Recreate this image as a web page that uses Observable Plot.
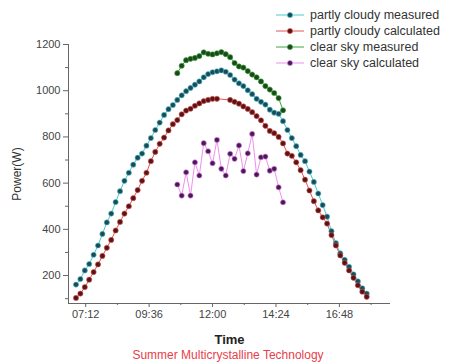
<!DOCTYPE html>
<html><head><meta charset="utf-8">
<script src="https://cdn.jsdelivr.net/npm/d3@7"></script>
<script src="https://cdn.jsdelivr.net/npm/@observablehq/plot@0.6"></script>
<style>
body{margin:0;background:#fff;font-family:"Liberation Sans",Arial,sans-serif;}
#wrap{position:relative;width:456px;height:363px;overflow:hidden;background:#fff;}
#wrap svg.plot{position:absolute;left:0;top:0;}
g[aria-label="x-axis label"] text{font-weight:bold;font-size:13px;fill:#222;}
g[aria-label="y-axis label"] text{font-size:12px;fill:#333;}
#legend{position:absolute;left:276px;top:7px;font-size:12.5px;color:#333;}
.row{height:16px;display:flex;align-items:center;white-space:nowrap;}
.row svg{margin-right:6px;}
#caption{position:absolute;left:0;width:456px;top:348px;text-align:center;font-size:12px;line-height:14px;color:#e8404a;}
</style></head><body><div id="wrap"></div>
<script>
const pcTimes = ["06:50","07:00","07:10","07:20","07:30","07:40","07:50","08:00","08:10","08:20","08:30","08:40","08:50","09:00","09:10","09:20","09:30","09:40","09:50","10:00","10:10","10:20","10:30","10:40","10:50","11:00","11:10","11:20","11:30","11:40","11:50","12:00","12:10","12:20","12:30","12:40","12:50","13:00","13:10","13:20","13:30","13:40","13:50","14:00","14:10","14:20","14:30","14:40","14:50","15:00","15:10","15:20","15:30","15:40","15:50","16:00","16:10","16:20","16:30","16:40","16:50","17:00","17:10","17:20","17:30","17:40","17:50"];
const pcMeasured = [161,185,222,250,290,330,380,430,468,518,565,610,645,680,710,728,762,795,830,862,895,920,938,960,980,998,1012,1026,1040,1058,1072,1080,1084,1088,1082,1068,1048,1032,1020,1002,985,965,952,940,918,905,900,868,830,795,760,722,695,650,605,555,505,455,392,340,296,268,238,205,175,145,122];
const pcCalculated = [103,122,150,182,215,248,285,320,354,395,432,468,500,535,570,610,645,695,735,770,797,828,855,873,898,914,922,935,945,955,960,965,965,null,null,960,952,944,932,921,907,890,872,848,826,816,800,772,728,718,690,656,615,568,522,482,452,425,375,330,287,255,222,190,158,130,108];
const csTimes = ["10:40","10:50","11:00","11:10","11:20","11:30","11:40","11:50","12:00","12:10","12:20","12:30","12:40","12:50","13:00","13:10","13:20","13:30","13:40","13:50","14:00","14:10","14:20","14:30","14:40"];
const csMeasured = [1076,1108,1132,1138,1142,1150,1166,1160,1157,1162,1167,1158,1145,1120,1105,1100,1085,1070,1058,1040,1020,1005,990,968,915];
const csCalculated = [594,546,647,546,690,633,773,738,686,787,662,633,727,705,763,652,729,813,637,712,715,654,662,582,517];
const seriesNames = ["partly cloudy measured","partly cloudy calculated","clear sky measured","clear sky calculated"];
const lineColors = ["#4cc8cc","#e05555","#3aa63a","#ee90ee"];
const dotColors = ["#1d4a5a","#5a1414","#1a4a1a","#4a1a58"];
const xTickLabels = ["07:12","09:36","12:00","14:24","16:48"];
const xMinorLabels = ["08:24","10:48","13:12","15:36","18:00"];
const xRange = ["06:33","18:44"];
const yTicks = [200,400,600,800,1000,1200];
const yMinor = [100,300,500,700,900,1100];
const yRange = [79,1200];

const toDate = s => new Date(Date.UTC(2000,0,1,+s.slice(0,2),+s.slice(3,5)));
const mk = (times, vals) => times.map((t,i)=>({t:toDate(t), v:vals[i]})).filter(d=>d.v!=null);
const series = [mk(pcTimes,pcMeasured), mk(pcTimes,pcCalculated), mk(csTimes,csMeasured), mk(csTimes,csCalculated)];
const xDomain = xRange.map(toDate);

const marks = [
  Plot.ruleX([xDomain[0]], {y1:yRange[0], y2:yRange[1], stroke:"#666"}),
  Plot.ruleY([yRange[0]], {stroke:"#666"}),
  Plot.axisX({ticks:xTickLabels.map(toDate), tickFormat:d3.utcFormat("%H:%M"), tickSize:4, tickPadding:3, stroke:"#666", fill:"#444", fontSize:11, label:"Time", labelAnchor:"center", labelOffset:40, labelArrow:"none"}),
  Plot.axisX({ticks:xMinorLabels.map(toDate), tickFormat:()=>"", tickSize:2, stroke:"#666", label:null}),
  Plot.axisY({ticks:yTicks, tickFormat:d=>String(d), tickSize:5, tickPadding:3, stroke:"#666", fill:"#444", fontSize:11, label:"Power(W)", labelAnchor:"center", labelOffset:56, labelArrow:"none"}),
  Plot.axisY({ticks:yMinor, tickFormat:()=>"", tickSize:3, stroke:"#666", label:null})
];
series.forEach((d,i)=>{
  marks.push(Plot.line(d,{x:"t",y:"v",stroke:lineColors[i],strokeWidth:1}));
});
series.forEach((d,i)=>{
  marks.push(Plot.dot(d,{x:"t",y:"v",r:2.6,fill:dotColors[i],stroke:lineColors[i],strokeWidth:0.6}));
});

const chart = Plot.plot({
  width:456, height:363,
  marginLeft:68, marginRight:66, marginTop:44, marginBottom:60,
  style:{fontFamily:"Liberation Sans, Arial, sans-serif", fontSize:"11px", background:"transparent", overflow:"visible"},
  x:{type:"utc", domain:xDomain},
  y:{domain:yRange},
  marks
});
const wrap = document.getElementById("wrap");
wrap.appendChild(chart);

const legend = document.createElement("div");
legend.id = "legend";
seriesNames.forEach((n,i)=>{
  const row = document.createElement("div");
  row.className = "row";
  row.innerHTML = `<svg width="28" height="10"><line x1="0" x2="28" y1="5" y2="5" stroke="${lineColors[i]}" stroke-width="1"/><circle cx="14" cy="5" r="2.6" fill="${dotColors[i]}" stroke="${lineColors[i]}" stroke-width="0.6"/></svg><span>${n}</span>`;
  legend.appendChild(row);
});
wrap.appendChild(legend);

const cap = document.createElement("div");
cap.id = "caption";
cap.textContent = "Summer Multicrystalline Technology";
wrap.appendChild(cap);
</script>
</body></html>
